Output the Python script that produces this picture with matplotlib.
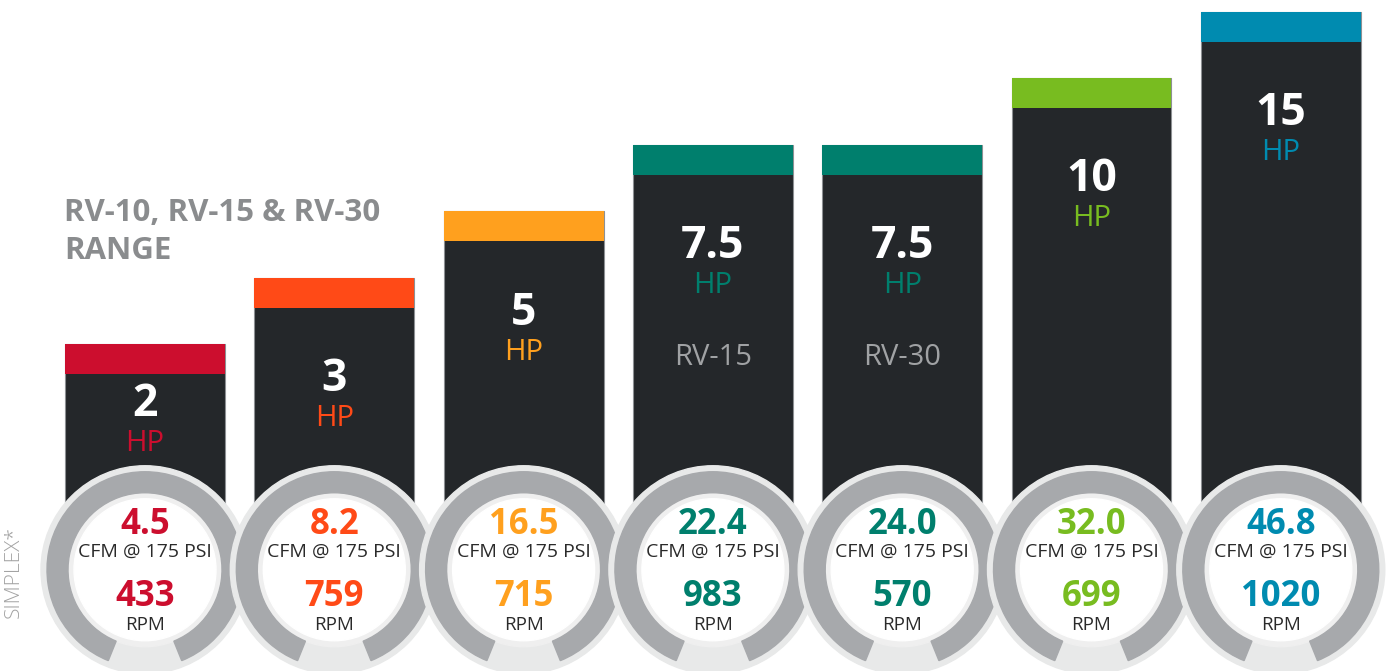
#!/usr/bin/python3

# Compressor range: HP bars with CFM / RPM gauges underneath

import matplotlib.pyplot as plt
import matplotlib.patches as mpatches
import matplotlib.transforms as mtransforms

plt.rcParams['font.family'] = ['Open Sans', 'DejaVu Sans']

# Data
hp = [2, 3, 5, 7.5, 7.5, 10, 15]
tier = [1, 2, 3, 4, 4, 5, 6]          # bar height step (one per HP size)
models = ['', '', '', 'RV-15', 'RV-30', '', '']
cfm = [4.5, 8.2, 16.5, 22.4, 24.0, 32.0, 46.8]
rpm = [433, 759, 715, 983, 570, 699, 1020]
colors = ['#cc0e2e', '#ff4a17', '#ffa01e', '#007f6d', '#007f6d', '#78bc20', '#008bb0']

# Layout
ybot = -3.925
cap = 0.452
width = 0.845
gauge_y = -2.4
label_drop = [61, 102, 102, 102, 102, 101, 101]   # pixels from bar top to HP number

fig = plt.figure(figsize=(13.87, 6.71), dpi=100)
ax = fig.add_axes([0, 0, 1, 1])
ax.set_xlim(-0.766, 6.561)
ax.set_ylim(ybot, 6.181)
ax.axis('off')

x = list(range(len(hp)))

# Dark bars with coloured caps (they stop behind the gauges)
ax.bar(x, [t - gauge_y for t in tier], bottom=gauge_y, width=width,
       color='#24272a', edgecolor='#8d9093', linewidth=0.8, zorder=1)
ax.bar(x, cap, bottom=[t - cap for t in tier], width=width,
       color=colors, linewidth=0, zorder=2)

for i in x:
    drop = label_drop[i]
    ax.annotate(f'{hp[i]:g}', xy=(i, tier[i]), xytext=(0, -drop),
                textcoords='offset pixels', ha='center', va='center',
                fontsize=32, fontweight='bold', color='white', zorder=3)
    ax.annotate('HP', xy=(i, tier[i]), xytext=(0, -drop - 39),
                textcoords='offset pixels', ha='center', va='center',
                fontsize=21, color=colors[i], zorder=3)
    if models[i]:
        ax.annotate(models[i], xy=(i, tier[i]), xytext=(0, -213),
                    textcoords='offset pixels', ha='center', va='center',
                    fontsize=21, color='#a0a2a4', zorder=3)

# Gauges (sizes in inches, centred on each bar)
for i in x:
    trans = fig.dpi_scale_trans + mtransforms.ScaledTranslation(i, gauge_y, ax.transData)
    z = 4 + i * 0.1
    ax.add_patch(mpatches.Circle((0, 0), 1.04, color='#e8e9e9', transform=trans, zorder=z))
    ax.add_patch(mpatches.Circle((0, 0), 0.77, color='#efefef', transform=trans, zorder=z))
    ax.add_patch(mpatches.Circle((0, 0), 0.71, color='white', transform=trans, zorder=z))
    ax.add_patch(mpatches.Wedge((0, 0), 0.98, -68, 248, width=0.21, color='#a7a9ac',
                                transform=trans, zorder=z))
    ax.annotate(f'{cfm[i]:.1f}', xy=(i, gauge_y), xytext=(0, 45),
                textcoords='offset pixels', ha='center', va='center',
                fontsize=25, fontweight='bold', color=colors[i], zorder=z + 0.05)
    ax.annotate('CFM @ 175 PSI', xy=(i, gauge_y), xytext=(0, 18),
                textcoords='offset pixels', ha='center', va='center',
                fontsize=14, color='#2a2a2a', zorder=z + 0.05)
    ax.annotate(f'{rpm[i]}', xy=(i, gauge_y), xytext=(0, -27),
                textcoords='offset pixels', ha='center', va='center',
                fontsize=25, fontweight='bold', color=colors[i], zorder=z + 0.05)
    ax.annotate('RPM', xy=(i, gauge_y), xytext=(0, -55),
                textcoords='offset pixels', ha='center', va='center',
                fontsize=13.5, color='#2a2a2a', zorder=z + 0.05)

# Range title and side label
fig.text(64 / 1387, 1 - 198 / 671, 'RV-10, RV-15 & RV-30\nRANGE', ha='left', va='top',
         fontsize=22.5, fontweight='bold', color='#8a8c8e', linespacing=1.33)
fig.text(14 / 1387, 1 - 572 / 671, 'SIMPLEX*', rotation=90, ha='center', va='center',
         fontsize=15, fontweight='light', color='#a3a3a3')

fig.savefig('out.png', dpi=100)
